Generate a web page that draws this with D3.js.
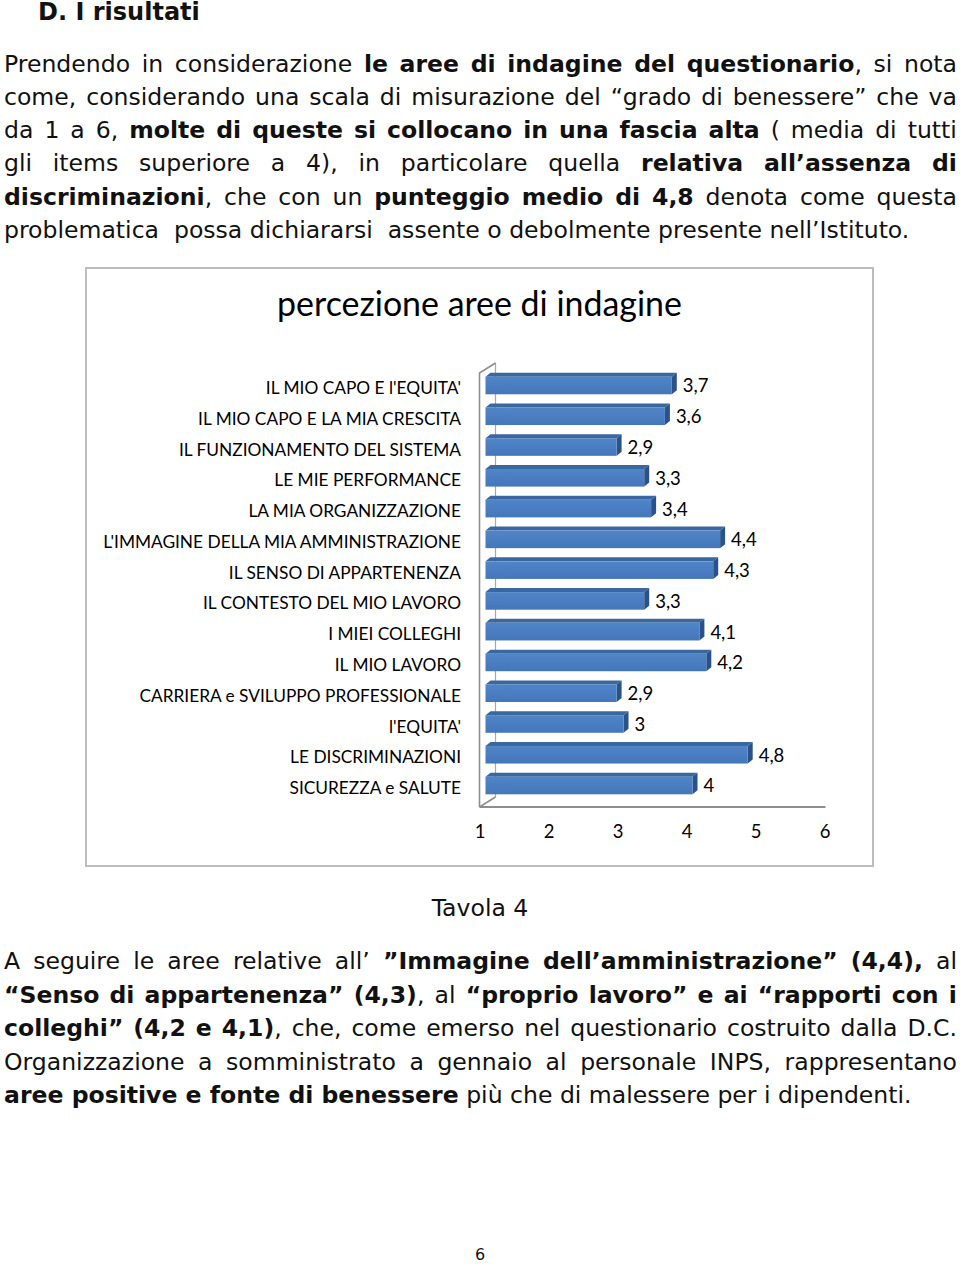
<!DOCTYPE html>
<html><head><meta charset="utf-8">
<script src="https://cdn.jsdelivr.net/npm/d3@7"></script>
<style>
body{margin:0;background:#fff;width:960px;height:1265px;position:relative;overflow:hidden;font-family:"DejaVu Sans",Verdana,sans-serif;color:#111;}
.ln{position:absolute;left:4px;width:953px;white-space:pre;height:30px;line-height:30px;}
.jl{display:flex;justify-content:space-between;}
.b{font-weight:bold}
svg{position:absolute;left:0;top:0}
</style></head><body>
<svg id="chart" width="960" height="1265"></svg>
<div id="doc"></div>
<script>
// ---------- data ----------
const categories = [
  "IL MIO CAPO E l'EQUITA'",
  "IL MIO CAPO E LA MIA CRESCITA",
  "IL FUNZIONAMENTO DEL SISTEMA",
  "LE MIE PERFORMANCE",
  "LA MIA ORGANIZZAZIONE",
  "L'IMMAGINE DELLA MIA AMMINISTRAZIONE",
  "IL SENSO DI APPARTENENZA",
  "IL CONTESTO DEL MIO LAVORO",
  "I MIEI COLLEGHI",
  "IL MIO LAVORO",
  "CARRIERA e SVILUPPO PROFESSIONALE",
  "l'EQUITA'",
  "LE DISCRIMINAZIONI",
  "SICUREZZA e SALUTE"
];
const values = [3.7, 3.6, 2.9, 3.3, 3.4, 4.4, 4.3, 3.3, 4.1, 4.2, 2.9, 3, 4.8, 4];
const xTicks = [1, 2, 3, 4, 5, 6];
const chartTitle = "percezione aree di indagine";

// document text (segments: [text, bold])
const heading = "D. I risultati";
const para1 = [
  [["Prendendo in considerazione ",0],["le aree di indagine del questionario",1],[", si nota",0]],
  [["come, considerando una scala di misurazione del “grado di benessere”  che va",0]],
  [["da 1 a 6, ",0],["molte di queste si  collocano in una fascia alta",1],[" ( media di tutti",0]],
  [["gli items superiore a 4), in particolare quella ",0],["relativa all’assenza di",1]],
  [["discriminazioni",1],[", che  con un ",0],["punteggio medio di 4,8",1],[" denota come questa",0]],
];
const para1Last = [["problematica  possa dichiararsi  assente o debolmente presente nell’Istituto.",0]];
const caption = "Tavola 4";
const para2 = [
  [["A seguire le aree relative all’ ",0],["”Immagine dell’amministrazione” (4,4),",1],[" al",0]],
  [["“Senso di appartenenza” (4,3)",1],[",  al ",0],["“proprio lavoro”  e ai “rapporti con i",1]],
  [["colleghi” (4,2 e 4,1)",1],[", che, come emerso nel questionario costruito dalla D.C.",0]],
  [["Organizzazione a somministrato a gennaio al personale INPS, rappresentano",0]],
];
const para2Last = [["aree positive e fonte di benessere",1],[" più che di malessere per i dipendenti.",0]];
const pageNum = "6";

// ---------- document text ----------
const doc = d3.select("#doc");
function measure(segs, size){
  const s = doc.append("span").style("position","absolute").style("white-space","pre").style("font-size",size+"px").style("visibility","hidden");
  segs.forEach(([t,b])=> s.append("span").classed("b",!!b).text(t));
  const w = s.node().getBoundingClientRect().width; s.remove(); return w;
}
const fs = 20 * 906 / measure(para1Last, 20);

function tokens(segs){
  const out=[]; let cur=[];
  segs.forEach(([t,b])=>{
    let buf="";
    for(const ch of t){
      if(ch===" "){ if(buf){cur.push([buf,b]);buf="";} if(cur.length){out.push(cur);cur=[];} }
      else buf+=ch;
    }
    if(buf) cur.push([buf,b]);
  });
  if(cur.length) out.push(cur);
  return out;
}
function justLine(segs, yc){
  const d = doc.append("div").attr("class","ln jl").style("top",(yc-15)+"px").style("font-size",fs+"px");
  tokens(segs).forEach(tok=>{
    const w = d.append("span");
    tok.forEach(([t,b])=> w.append("span").classed("b",!!b).text(t));
  });
}
function plainLine(segs, yc, opts={}){
  const d = doc.append("div").attr("class","ln").style("top",(yc-15)+"px").style("font-size",(opts.size||fs)+"px");
  if(opts.left!==undefined) d.style("left",opts.left+"px");
  if(opts.center){ d.style("left","0px").style("width","960px").style("text-align","center"); }
  segs.forEach(([t,b])=> d.append("span").classed("b",!!b).text(t));
}
plainLine([[heading,1]], 12, {left:38, size: fs*1.02});
const p1y = [64, 97, 130, 163, 197];
para1.forEach((l,i)=> justLine(l, p1y[i]));
plainLine(para1Last, 230);
plainLine([[caption,0]], 908, {center:true});
const p2y = [961, 995, 1028, 1062];
para2.forEach((l,i)=> justLine(l, p2y[i]));
plainLine(para2Last, 1095);
plainLine([[pageNum,0]], 1255, {center:true, size:16});

// ---------- chart ----------
const svg = d3.select("#chart");
const CF = "Lato, 'Open Sans', sans-serif";
// frame
svg.append("rect").attr("x",86).attr("y",268).attr("width",787).attr("height",598)
  .attr("fill","#fff").attr("stroke","#bdbdbd").attr("stroke-width",2);

function fitSize(text, target, base, weight){
  const t = svg.append("text").attr("font-family",CF).attr("font-size",base).attr("font-weight",weight||400).text(text);
  const w = t.node().getComputedTextLength(); t.remove(); return base*target/w;
}
const titleSize = fitSize(chartTitle, 405, 30);
svg.append("text").attr("x",479.5).attr("y",316).attr("text-anchor","middle")
  .attr("font-family",CF).attr("font-size",titleSize).attr("fill","#000").text(chartTitle);

const x = d3.scaleLinear().domain([1,6]).range([479.5, 824.5]);
const y = d3.scaleBand().domain(categories).range([372.6, 803.4]);
const DX = 16, DY = -10; // wall depth
const y0 = 373, y1 = 807;
const wall = svg.append("g").attr("fill","none").attr("stroke","#8e8e8e").attr("stroke-width",1.6);
wall.append("line").attr("x1",x(1)+DX).attr("x2",x(1)+DX).attr("y1",y0+DY).attr("y2",y1+DY).attr("stroke","#a8a8a8").attr("stroke-width",1.2);
wall.append("path").attr("d",`M${x(1)},${y1}L${x(1)},${y0}L${x(1)+DX},${y0+DY}`);
wall.append("path").attr("d",`M${x(1)},${y1}L${x(1)+DX},${y1+DY}`);
wall.append("line").attr("x1",x(1)).attr("x2",x(6)+1).attr("y1",y1).attr("y2",y1).attr("stroke-width",2);

// gradient
const defs = svg.append("defs");
const g = defs.append("linearGradient").attr("id","fg").attr("x1",0).attr("x2",0).attr("y1",0).attr("y2",1);
g.append("stop").attr("offset","0%").attr("stop-color","#5085c8");
g.append("stop").attr("offset","100%").attr("stop-color","#4476ba");

const OFF = 6, bdx = 5, bdy = -4;
const valSize = 18.5;
const data = categories.map((c,i)=>({c, v: values[i]}));
const bars = svg.append("g").selectAll("g").data(data).join("g");
bars.each(function(d){
  const gg = d3.select(this);
  const yc = y(d.c) + y.bandwidth()/2;
  const ft = yc - 11.3, fb = yc + 6.3;
  const xa = x(1)+OFF, xb = x(d.v)+OFF;
  gg.append("path").attr("d",`M${xa},${ft}L${xb},${ft}L${xb+bdx},${ft+bdy}L${xa+bdx},${ft+bdy}Z`).attr("fill","#3a679f");
  gg.append("path").attr("d",`M${xb},${ft}L${xb+bdx},${ft+bdy}L${xb+bdx},${fb+bdy}L${xb},${fb}Z`).attr("fill","#2b5288");
  gg.append("rect").attr("x",xa).attr("y",ft).attr("width",xb-xa).attr("height",fb-ft).attr("fill","url(#fg)");
  gg.append("text").attr("x", x(d.v)+17).attr("y", yc-2).attr("dy","0.35em")
    .attr("font-family",CF).attr("font-size",valSize).attr("fill","#000")
    .text(String(d.v).replace(".", ","));
});

const catSize = fitSize("L'IMMAGINE DELLA MIA AMMINISTRAZIONE", 358, 17);
svg.append("g").selectAll("text").data(categories).join("text")
  .attr("x",461).attr("y",d=>y(d)+y.bandwidth()/2).attr("dy","0.35em").attr("text-anchor","end")
  .attr("font-family",CF).attr("font-size",catSize).attr("fill","#000").text(d=>d);

const axis = d3.axisBottom(x).tickValues(xTicks).tickSize(0).tickPadding(0).tickFormat(d3.format("d"));
const ag = svg.append("g").attr("transform","translate(0,832)").call(axis);
ag.select(".domain").remove();
ag.selectAll("text").attr("font-family",CF).attr("font-size",valSize).attr("fill","#000").attr("dy","0.35em").attr("y",0);
</script>
</body></html>
